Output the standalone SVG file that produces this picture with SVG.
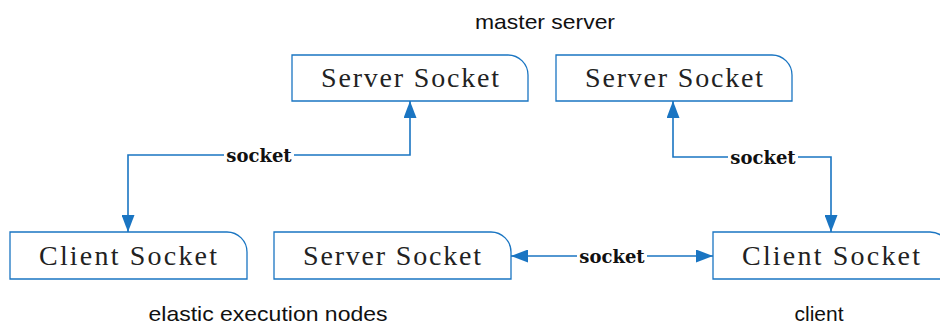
<svg xmlns="http://www.w3.org/2000/svg" width="940" height="325" viewBox="0 0 940 325">
<style>
.box{fill:#fff;stroke:#1a75c2;stroke-width:1.3}
.bt{font-family:"Liberation Serif","Times New Roman",serif;font-size:28px;fill:#222;text-anchor:middle}
.ln{fill:none;stroke:#1a75c2;stroke-width:1.6}
.lb{font-family:"DejaVu Serif",serif;font-weight:bold;font-size:18px;fill:#111;text-anchor:middle}
.cap{font-family:"Liberation Sans",Arial,sans-serif;font-size:21px;fill:#111;text-anchor:middle}
</style>
<defs>
<marker id="ah" viewBox="0 0 17 13" refX="17" refY="6.5" markerWidth="17" markerHeight="13" markerUnits="userSpaceOnUse" orient="auto-start-reverse">
<path d="M0,0 L17,6.5 L0,13 Z" fill="#1a75c2"/>
</marker>
</defs>
<text class="cap" x="545" y="29" textLength="140" lengthAdjust="spacingAndGlyphs">master server</text>
<g id="server1">
<path class="box" d="M292,55 H508 A20,20 0 0 1 528,75 V101 H292 Z"/>
<text class="bt" x="410" y="87" textLength="178" lengthAdjust="spacing">Server Socket</text>
</g>
<g id="server2">
<path class="box" d="M556,55 H772 A20,20 0 0 1 792,75 V101 H556 Z"/>
<text class="bt" x="674" y="87" textLength="178" lengthAdjust="spacing">Server Socket</text>
</g>
<g id="client1">
<path class="box" d="M10,232 H227 A20,20 0 0 1 247,252 V279 H10 Z"/>
<text class="bt" x="128" y="265" textLength="178" lengthAdjust="spacing">Client Socket</text>
</g>
<g id="server3">
<path class="box" d="M274,232 H491 A20,20 0 0 1 511,252 V279 H274 Z"/>
<text class="bt" x="392" y="265" textLength="178" lengthAdjust="spacing">Server Socket</text>
</g>
<g id="client2">
<path class="box" d="M713,232 H930 A20,20 0 0 1 950,252 V279 H713 Z"/>
<text class="bt" x="831" y="265" textLength="178" lengthAdjust="spacing">Client Socket</text>
</g>
<g id="connectors">
<path class="ln" d="M128,232 V155 H410 V101" marker-start="url(#ah)" marker-end="url(#ah)"/>
<path class="ln" d="M673,101 V157 H831 V232" marker-start="url(#ah)" marker-end="url(#ah)"/>
<path class="ln" d="M511,256 H713" marker-start="url(#ah)" marker-end="url(#ah)"/>
<rect x="224" y="144" width="70" height="22" fill="#fff"/>
<text class="lb" x="259" y="162">socket</text>
<rect x="728" y="146" width="70" height="22" fill="#fff"/>
<text class="lb" x="763" y="164">socket</text>
<rect x="577" y="245" width="70" height="22" fill="#fff"/>
<text class="lb" x="612" y="263">socket</text>
</g>
<text class="cap" x="268" y="321" textLength="239" lengthAdjust="spacingAndGlyphs">elastic execution nodes</text>
<text class="cap" x="819" y="321">client</text>
</svg>
